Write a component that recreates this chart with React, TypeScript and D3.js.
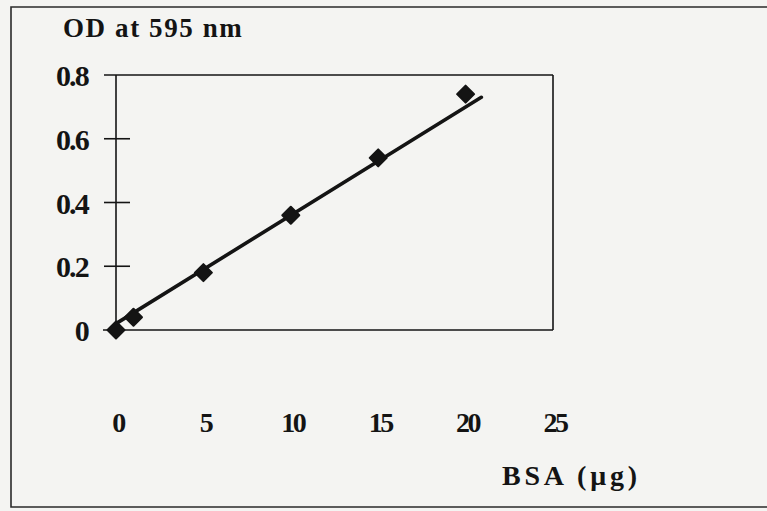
import * as d3 from "d3";
import { useRef, useEffect } from "react";

// BSA standard curve (Bradford assay)
const bsaUg = [0, 1, 5, 10, 15, 20];
const odValues = [0, 0.04, 0.18, 0.36, 0.54, 0.74];
const trendX = [0, 20.9];
const trendY = [0.02, 0.73];
const xTicks = [0, 5, 10, 15, 20, 25];
const yTicks = [0, 0.2, 0.4, 0.6, 0.8];
const yTickLabels = ["0", "0.2", "0.4", "0.6", "0.8"];

const WIDTH = 767;
const HEIGHT = 511;
const INK = "#141414";
const FONT = "'Liberation Serif', 'Times New Roman', serif";

function App() {
  const svgRef = useRef<SVGSVGElement>(null);

  useEffect(() => {
    const svg = d3.select(svgRef.current);
    svg.selectAll("*").remove();

    const x = d3.scaleLinear().domain([0, 25]).range([116, 553]);
    const y = d3.scaleLinear().domain([0, 0.8]).range([330, 75]);

    // paper + outer frame
    svg.append("rect")
      .attr("width", WIDTH)
      .attr("height", HEIGHT)
      .attr("fill", "#f4f4f2");

    svg.append("path")
      .attr("d", "M780,7 H11 V507 H780")
      .attr("fill", "none")
      .attr("stroke", "#2a2a2a")
      .attr("stroke-width", 1.6);

    // plot box
    const box = svg.append("g")
      .attr("fill", "none")
      .attr("stroke", INK)
      .attr("stroke-width", 1.6);

    box.append("line")
      .attr("x1", x(0)).attr("x2", x(0))
      .attr("y1", y(0.8)).attr("y2", y(0));
    box.append("line")
      .attr("x1", x(25)).attr("x2", x(25))
      .attr("y1", y(0.8)).attr("y2", y(0));
    box.append("line")
      .attr("x1", x(0) - 12).attr("x2", x(25))
      .attr("y1", y(0.8)).attr("y2", y(0.8));
    box.append("line")
      .attr("x1", x(0) - 13).attr("x2", x(25))
      .attr("y1", y(0)).attr("y2", y(0));

    // y ticks cross the axis
    box.selectAll(".ytick")
      .data(yTicks.slice(1, -1))
      .join("line")
      .attr("x1", x(0) - 12)
      .attr("x2", x(0) + 14)
      .attr("y1", d => y(d))
      .attr("y2", d => y(d));

    // y tick labels
    svg.append("g").selectAll("text")
      .data(yTicks)
      .join("text")
      .attr("x", 88)
      .attr("y", d => y(d) + 11)
      .attr("text-anchor", "end")
      .attr("font-family", FONT)
      .attr("font-weight", "bold")
      .attr("font-size", 30)
      .attr("letter-spacing", -1.8)
      .attr("fill", INK)
      .text((d, i) => yTickLabels[i]);

    // x tick labels, far below the axis
    svg.append("g").selectAll("text")
      .data(xTicks)
      .join("text")
      .attr("x", d => x(d) + 2)
      .attr("y", 432)
      .attr("text-anchor", "middle")
      .attr("font-family", FONT)
      .attr("font-weight", "bold")
      .attr("font-size", 28)
      .attr("letter-spacing", -2.5)
      .attr("fill", INK)
      .text(d => d);

    // titles
    svg.append("text")
      .attr("x", 63)
      .attr("y", 37)
      .attr("font-family", FONT)
      .attr("font-weight", "bold")
      .attr("font-size", 27)
      .attr("letter-spacing", 1.6)
      .attr("fill", INK)
      .text("OD at 595 nm");

    svg.append("text")
      .attr("x", 502)
      .attr("y", 485)
      .attr("font-family", FONT)
      .attr("font-weight", "bold")
      .attr("font-size", 28)
      .attr("letter-spacing", 3.8)
      .attr("fill", INK)
      .text("BSA (\u03bcg)");

    // fitted line
    const line = d3.line<number>()
      .x(d => x(d))
      .y((d, i) => y(trendY[i]));

    svg.append("path")
      .datum(trendX)
      .attr("d", line)
      .attr("fill", "none")
      .attr("stroke", INK)
      .attr("stroke-width", 3.6)
      .attr("stroke-linecap", "round");

    // diamond markers
    const marker = d3.symbol().type(d3.symbolSquare).size(145);
    svg.append("g").selectAll("path")
      .data(bsaUg)
      .join("path")
      .attr("d", marker)
      .attr("transform", (d, i) => `translate(${x(d)},${y(odValues[i])}) rotate(45)`)
      .attr("fill", INK)
      .attr("stroke", INK)
      .attr("stroke-width", 2)
      .attr("stroke-linejoin", "round");
  }, []);

  return (
    <svg
      ref={svgRef}
      width={WIDTH}
      height={HEIGHT}
      style={{ position: "absolute", left: 0, top: 0 }}
    />
  );
}

export default App;
